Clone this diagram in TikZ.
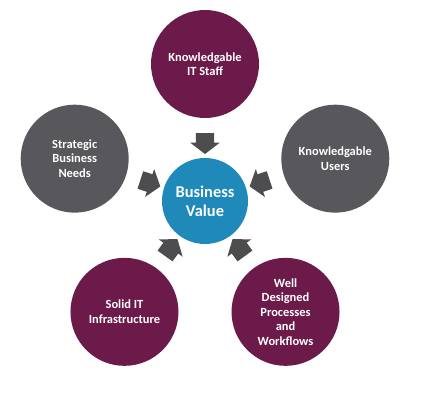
\documentclass[tikz,border=0pt]{standalone}
\usepackage{fontspec}
\setmainfont{Carlito}
\usetikzlibrary{shapes.arrows,calc}
\definecolor{plum}{RGB}{108,26,73}
\definecolor{slate}{RGB}{88,87,91}
\definecolor{ocean}{RGB}{31,138,186}
\definecolor{iron}{RGB}{77,77,79}
\begin{document}
\begin{tikzpicture}[
    outer/.style={circle, draw=none, minimum size=108bp, inner sep=0pt, text=white,
      align=center, font=\fontsize{12.5}{14.5}\selectfont\bfseries},
    hub/.style={circle, fill=ocean, minimum size=86bp, inner sep=0pt, text=white,
      align=center, font=\fontsize{16.5}{19}\selectfont\bfseries},
    push/.style={single arrow, fill=iron, draw=none, minimum height=21bp,
      inner xsep=0pt, inner ysep=9bp, single arrow head extend=5.5bp,
      single arrow tip angle=105}
  ]
    \useasboundingbox (-205bp,-214bp) rectangle (240bp,201bp);
    \node[hub] (bv) at (0,0) {Business\\Value};
    \node[outer, fill=plum]  (staff) at (90:137bp)  {Knowledgable\\IT Staff};
    \node[outer, fill=slate] (users) at (18:137bp)  {Knowledgable\\Users};
    \node[outer, fill=plum]  (flow)  at (-54:137bp) {Well\\Designed\\Processes\\and\\Workflows};
    \node[outer, fill=plum]  (infra) at (234:137bp) {Solid IT\\Infrastructure};
    \node[outer, fill=slate] (needs) at (162:137bp) {Strategic\\Business\\Needs};
    % block arrows toward the hub
    \node[push, rotate=-90] (a1) at ($(bv)!61bp!(staff)$) {};
    \node[push, rotate=198] (a2) at ($(bv)!61bp!(users)$) {};
    \node[push, rotate=126] (a3) at ($(bv)!61bp!(flow)$) {};
    \node[push, rotate=54]  (a4) at ($(bv)!61bp!(infra)$) {};
    \node[push, rotate=-18] (a5) at ($(bv)!61bp!(needs)$) {};
  \end{tikzpicture}
\end{document}
